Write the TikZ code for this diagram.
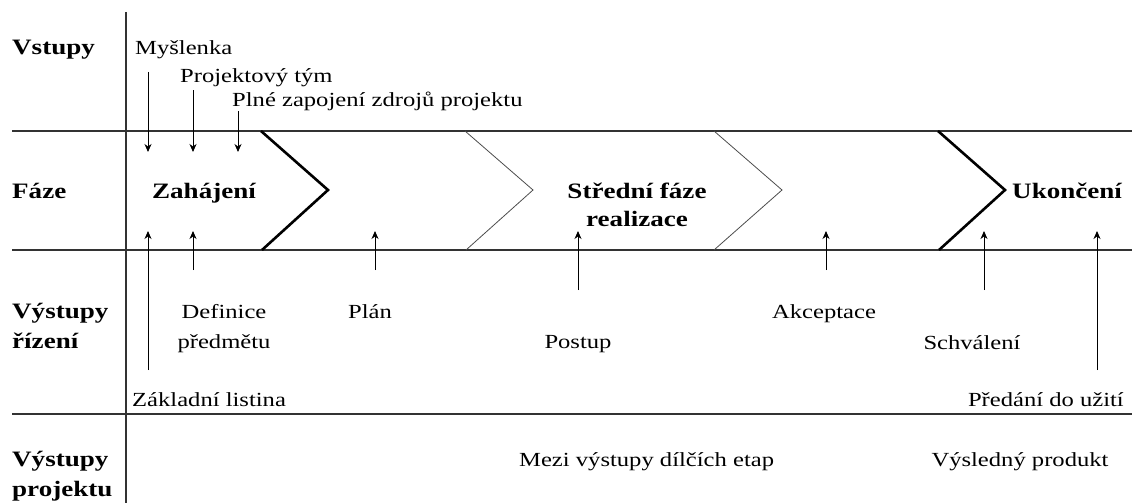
\documentclass[tikz,border=0pt]{standalone}
\usepackage{fontspec}
\setmainfont{Liberation Serif}[FakeStretch=1.23]
\usetikzlibrary{arrows.meta}
\begin{document}
\begin{tikzpicture}[x=1pt,y=-1pt,
  grid/.style={line width=1.3pt,draw=black!80},
  thickchev/.style={line width=2.6pt,line join=miter,draw=black},
  thinchev/.style={line width=0.8pt,draw=black!70},
  arr/.style={-{Stealth[length=8pt,width=7pt,inset=2.5pt]},line width=0.9pt},
  lbl/.style={inner sep=0pt,font=\fontsize{20}{30}\selectfont,align=center},
  hdr/.style={inner sep=0pt,font=\fontsize{22}{30}\selectfont\bfseries,align=left},
  phs/.style={inner sep=0pt,font=\fontsize{22}{28}\selectfont\bfseries,align=center}]
\useasboundingbox (0,0) rectangle (1132,503);
% grid
\draw[grid] (12,131) -- (1132,131);
\draw[grid] (12,250) -- (1132,250);
\draw[grid] (12,414) -- (1132,414);
\draw[grid] (126,12) -- (126,503);
% chevrons
\draw[thickchev] (261,131) -- (328,190) -- (262,250);
\draw[thinchev] (465,131) -- (533,190) -- (466,250);
\draw[thinchev] (714,131) -- (782,190) -- (714,250);
\draw[thickchev] (938,131) -- (1005,190) -- (939,250);
% row headers (base = last line)
\node[hdr,anchor=base west] (hV) at (12,55) {Vstupy};
\node[hdr,anchor=base west] (hF) at (12,198) {Fáze};
\node[hdr,anchor=base west] (hR) at (12,348) {Výstupy\\řízení};
\node[hdr,anchor=base west] (hP) at (12,496) {Výstupy\\projektu};
% phases
\node[phs,anchor=base] (zah) at (204,198) {Zahájení};
\node[phs,anchor=base] (str) at (637,226) {Střední fáze\\realizace};
\node[phs,anchor=base west] (uko) at (1012,198) {Ukončení};
% inputs
\node[lbl,anchor=base west] (mys) at (135,55) {Myšlenka};
\node[lbl,anchor=base west] (tym) at (180,82) {Projektový tým};
\node[lbl,anchor=base west] (zdr) at (232,106) {Plné zapojení zdrojů projektu};
\coordinate (mysA) at (148,72);  \coordinate (mysB) at (148,152);
\coordinate (tymA) at (193,90);  \coordinate (tymB) at (193,152);
\coordinate (zdrA) at (238,111); \coordinate (zdrB) at (238,152);
\draw[arr] (mysA) -- (mysB);
\draw[arr] (tymA) -- (tymB);
\draw[arr] (zdrA) -- (zdrB);
% management outputs
\node[lbl,anchor=base] (def) at (224,348) {Definice\\předmětu};
\node[lbl,anchor=base] (plan) at (370,318) {Plán};
\node[lbl,anchor=base] (post) at (578,348) {Postup};
\node[lbl,anchor=base] (akc) at (824,318) {Akceptace};
\node[lbl,anchor=base] (sch) at (972,349) {Schválení};
\node[lbl,anchor=base west] (zakl) at (132,406) {Základní listina};
\node[lbl,anchor=base east] (pred) at (1124,406) {Předání do užití};
\coordinate (zaklA) at (148,370); \coordinate (zaklB) at (148,231);
\coordinate (defA) at (193,270);  \coordinate (defB) at (193,231);
\coordinate (planA) at (375,270); \coordinate (planB) at (375,231);
\coordinate (postA) at (578,290); \coordinate (postB) at (578,231);
\coordinate (akcA) at (826,270);  \coordinate (akcB) at (826,231);
\coordinate (schA) at (984,290);  \coordinate (schB) at (984,231);
\coordinate (predA) at (1097,370); \coordinate (predB) at (1097,231);
\draw[arr] (zaklA) -- (zaklB);
\draw[arr] (defA) -- (defB);
\draw[arr] (planA) -- (planB);
\draw[arr] (postA) -- (postB);
\draw[arr] (akcA) -- (akcB);
\draw[arr] (schA) -- (schB);
\draw[arr] (predA) -- (predB);
% project outputs
\node[lbl,anchor=base west] (mezi) at (519,466) {Mezi výstupy dílčích etap};
\node[lbl,anchor=base] (vysl) at (1020,466) {Výsledný produkt};
\end{tikzpicture}
\end{document}
